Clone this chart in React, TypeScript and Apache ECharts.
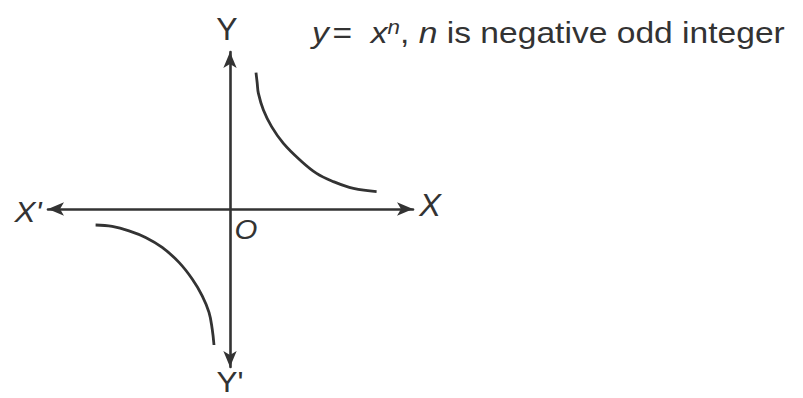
import React, { useEffect, useRef } from "react";
import * as echarts from "echarts";

// Branch of y = x^n in the first quadrant (x > 0, y > 0)
const upperBranch: [number, number][] = [
  [1.3, 6.82], [1.36, 6.3], [1.42, 5.78], [1.67, 4.95], [2.08, 4.12], [2.67, 3.28],
  [3.5, 2.45], [4.33, 1.78], [5.17, 1.37], [6.17, 1.03], [7.33, 0.87],
];
// Branch in the third quadrant (x < 0, y < 0)
const lowerBranch: [number, number][] = [
  [-6.72, -0.8], [-5.89, -0.87], [-5.05, -1.09], [-4.22, -1.42], [-3.39, -1.92],
  [-2.55, -2.67], [-1.89, -3.5], [-1.39, -4.34], [-1.05, -5.17], [-0.89, -6.0], [-0.8, -6.8],
];
const xRange: [number, number] = [-9.1, 9.15];
const yRange: [number, number] = [-7.9, 7.85];

const INK = "#333333";
const FONT = "'Liberation Sans', Arial, sans-serif";

export default function App() {
  const ref = useRef<HTMLDivElement>(null);

  useEffect(() => {
    const chart = echarts.init(ref.current!, null, { renderer: "svg" });
    const axisLine = {
      onZero: true,
      symbol: ["arrow", "arrow"],
      symbolSize: [10, 16],
      lineStyle: { color: INK, width: 2.6 },
    };
    const hiddenBits = {
      axisTick: { show: false },
      axisLabel: { show: false },
      splitLine: { show: false },
    };
    const curve = (data: [number, number][]) => ({
      type: "line",
      data,
      smooth: 0.4,
      showSymbol: false,
      lineStyle: { color: INK, width: 2.8 },
    });
    const label = (text: string, x: number, y: number, size: number, italic = false, scaleX = 1) => ({
      type: "text",
      x,
      y,
      scaleX,
      style: {
        text,
        fill: INK,
        font: `${italic ? "italic " : ""}${size}px ${FONT}`,
        textAlign: "center",
        textVerticalAlign: "middle",
      },
    });

    chart.setOption({
      animation: false,
      backgroundColor: "#ffffff",
      grid: { left: 48, top: 52, width: 365, height: 315 },
      xAxis: { type: "value", min: xRange[0], max: xRange[1], axisLine, ...hiddenBits },
      yAxis: { type: "value", min: yRange[0], max: yRange[1], axisLine, ...hiddenBits },
      series: [curve(upperBranch), curve(lowerBranch)],
      graphic: [
        label("Y", 227, 29, 32, false, 1),
        label("Y'", 230, 382, 30, false, 1.05),
        label("X'", 28, 212, 30, true, 1.05),
        label("X", 430, 205, 31, true, 1.05),
        label("O", 246, 229, 28, true, 1.05),
        {
          type: "text",
          x: 312,
          y: 33,
          scaleX: 1.12,
          style: {
            text: "{i|y} {r|=  }{i|x}{s|n}{r|, }{i|n}{r| is negative odd integer}",
            fill: INK,
            textVerticalAlign: "middle",
            rich: {
              i: { font: `italic 30px ${FONT}`, fill: INK },
              r: { font: `30px ${FONT}`, fill: INK },
              s: { font: `italic 20px ${FONT}`, fill: INK, verticalAlign: "top", padding: [0, 0, 13, 0] },
            },
          },
        },
      ],
    });
    return () => chart.dispose();
  }, []);

  return (
    <div
      ref={ref}
      style={{ position: "fixed", left: 0, top: 0, width: 803, height: 398, background: "#fff" }}
    />
  );
}
